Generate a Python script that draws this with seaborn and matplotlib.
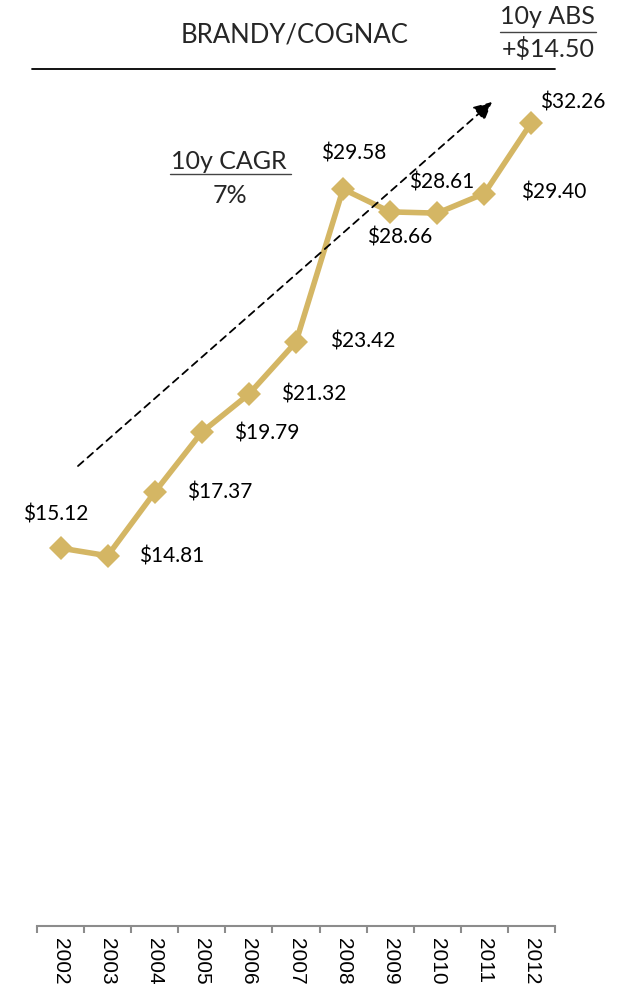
import matplotlib
matplotlib.use("Agg")
import matplotlib.pyplot as plt
from matplotlib.lines import Line2D
from matplotlib.patches import FancyArrowPatch
import seaborn as sns
import pandas as pd

# Brandy/Cognac average price per year
years = ["2002", "2003", "2004", "2005", "2006", "2007",
         "2008", "2009", "2010", "2011", "2012"]
prices = [15.12, 14.81, 17.37, 19.79, 21.32, 23.42,
          29.58, 28.66, 28.61, 29.40, 32.26]
price_labels = ["$15.12", "$14.81", "$17.37", "$19.79", "$21.32", "$23.42",
                "$29.58", "$28.66", "$28.61", "$29.40", "$32.26"]

title = "BRANDY/COGNAC"
abs_title, abs_value = "10y ABS", "+$14.50"
cagr_title, cagr_value = "10y CAGR", "7%"

GOLD = "#D4B664"
W, H = 627, 993

sns.set_theme(style="white")
plt.rcParams["font.family"] = ["Lato", "DejaVu Sans"]


def fx(px):
    return px / W


def fy(py):
    return 1 - py / H


fig = plt.figure(figsize=(W / 100, H / 100), dpi=100)

ymin, ymax = -0.1, 35.0
px_per_unit = 24.83
ax_h = (ymax - ymin) * px_per_unit
ax = fig.add_axes([fx(37), (H - 926) / H, (555 - 37) / W, ax_h / H])

df = pd.DataFrame({"pos": range(len(years)), "price": prices})
sns.lineplot(data=df, x="pos", y="price", ax=ax, color=GOLD,
             linewidth=4.0, marker="D", markersize=12,
             markeredgewidth=0, markerfacecolor=GOLD)

ax.set_xlim(-0.5, len(years) - 0.5)
ax.set_ylim(ymin, ymax)
ax.set_xlabel("")
ax.set_ylabel("")
ax.set_yticks([])
ax.set_xticks(range(len(years)))
ax.set_xticklabels(years, rotation=-90, fontsize=15,
                   family=["Liberation Sans", "DejaVu Sans"])
ax.set_xticks([i - 0.5 for i in range(len(years) + 1)], minor=True)
ax.tick_params(axis="x", which="major", length=0, pad=9, colors="black")
ax.tick_params(axis="x", which="minor", length=5, width=1.5,
               color="#8c8c8c", direction="out", bottom=True)
for side in ("left", "right", "top"):
    ax.spines[side].set_visible(False)
ax.spines["bottom"].set_color("#8c8c8c")
ax.spines["bottom"].set_linewidth(1.5)
ax.patch.set_alpha(0)

# value labels, offsets in pixels (dx right, dy down)
offsets = [(-5, -34), (64, 1), (65, 0), (65, 1), (65, 0), (67, 0),
           (11, -36), (9, 26), (4, -31), (69, -1), (41, -20)]
for i, (lab, (dx, dy)) in enumerate(zip(price_labels, offsets)):
    ax.annotate(lab, xy=(i, prices[i]), xytext=(dx * 0.72, -dy * 0.72),
                textcoords="offset points", ha="center", va="center",
                fontsize=15, color="black")

# trend arrow
fig.patches.append(FancyArrowPatch(
    (fx(78), fy(466)), (fx(492), fy(102)), transform=fig.transFigure,
    arrowstyle="-|>,head_length=1.1,head_width=0.55", mutation_scale=10,
    linestyle=(0, (4, 3)), linewidth=1.3, color="black",
    shrinkA=0, shrinkB=0))

# header
fig.text(fx(294.5), fy(42), title, ha="center", va="baseline", fontsize=18.5)
fig.add_artist(Line2D([fx(32), fx(555)], [fy(69.3), fy(69.3)],
                      color="black", linewidth=1.3))
fig.text(fx(547.5), fy(24), abs_title, ha="center", va="baseline", fontsize=18)
fig.add_artist(Line2D([fx(500), fx(596)], [fy(31.7), fy(31.7)],
                      color="#444444", linewidth=1.0))
fig.text(fx(548), fy(57), abs_value, ha="center", va="baseline", fontsize=18)

fig.text(fx(229), fy(169.3), cagr_title, ha="center", va="baseline", fontsize=18)
fig.add_artist(Line2D([fx(170), fx(291)], [fy(173.5), fy(173.5)],
                      color="#444444", linewidth=1.0))
fig.text(fx(230), fy(203.3), cagr_value, ha="center", va="baseline", fontsize=18)

fig.savefig("out.png", dpi=100)
